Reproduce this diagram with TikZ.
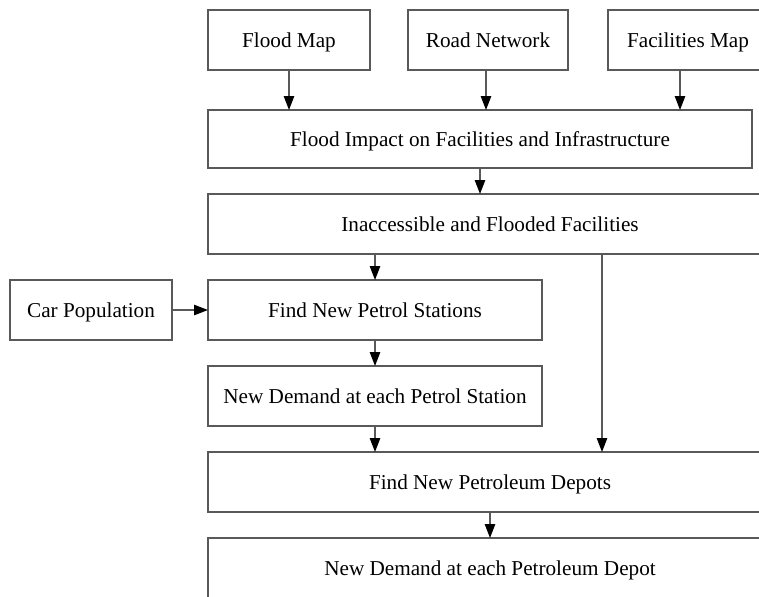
\documentclass[tikz,border=0pt]{standalone}
\usepackage{fontspec}
\setmainfont{Liberation Serif}
\usetikzlibrary{positioning, arrows.meta}

\begin{document}
\begin{tikzpicture}[x=0.5pt, y=-0.5pt, font=\fontsize{10.6}{12}\selectfont,
    box/.style={draw=black!65, line width=0.75pt, minimum height=30pt, inner sep=2pt,
                outer sep=0pt, text height=8pt, text depth=1pt},
    flow/.style={draw=black!65, line width=0.75pt, -{Triangle[length=7pt, width=5.2pt, color=black]}}]
   \useasboundingbox (0,0) rectangle (759,596);
   \clip (0,0) rectangle (759,596);

   % Input maps
   \node[box, minimum width=81pt] (flood) at (289,40) {Flood Map};
   \node[box, minimum width=80pt] (road) [right=19pt of flood] {Road Network};
   \node[box, minimum width=80pt] (facil) [right=20pt of road] {Facilities Map};

   % Impact analysis
   \node[box, minimum width=272pt, minimum height=29pt] (impact)
        [below=20pt of flood.south west, anchor=north west] {Flood Impact on Facilities and Infrastructure};
   \node[box, minimum width=282pt] (inacc)
        [below=13pt of impact.south west, anchor=north west] {Inaccessible and Flooded Facilities};

   % Petrol stations
   \node[box, minimum width=167pt] (petrol)
        [below=13pt of inacc.south west, anchor=north west] {Find New Petrol Stations};
   \node[box, minimum width=81pt] (car) [left=18pt of petrol] {Car Population};
   \node[box, minimum width=167pt] (demand) [below=13pt of petrol] {New Demand at each Petrol Station};

   % Petroleum depots
   \node[box, minimum width=282pt] (depots)
        [below=13pt of demand.south west, anchor=north west] {Find New Petroleum Depots};
   \node[box, minimum width=282pt] (depotdem) [below=13pt of depots] {New Demand at each Petroleum Depot};

   % Connections
   \draw[flow] (flood.south) -- (flood.south |- impact.north);
   \draw[flow] ([xshift=-1pt]road.south) -- ([xshift=-1pt]road.south |- impact.north);
   \draw[flow] ([xshift=-4pt]facil.south) -- ([xshift=-4pt]facil.south |- impact.north);
   \draw[flow] (impact.south) -- (impact.south |- inacc.north);
   \draw[flow] (petrol.north |- inacc.south) -- (petrol.north);
   \draw[flow] ([xshift=56pt]inacc.south) -- ([xshift=56pt]inacc.south |- depots.north);
   \draw[flow] (car) -- (petrol);
   \draw[flow] (petrol) -- (demand);
   \draw[flow] (demand.south) -- (demand.south |- depots.north);
   \draw[flow] (depots) -- (depotdem);
\end{tikzpicture}
\end{document}
